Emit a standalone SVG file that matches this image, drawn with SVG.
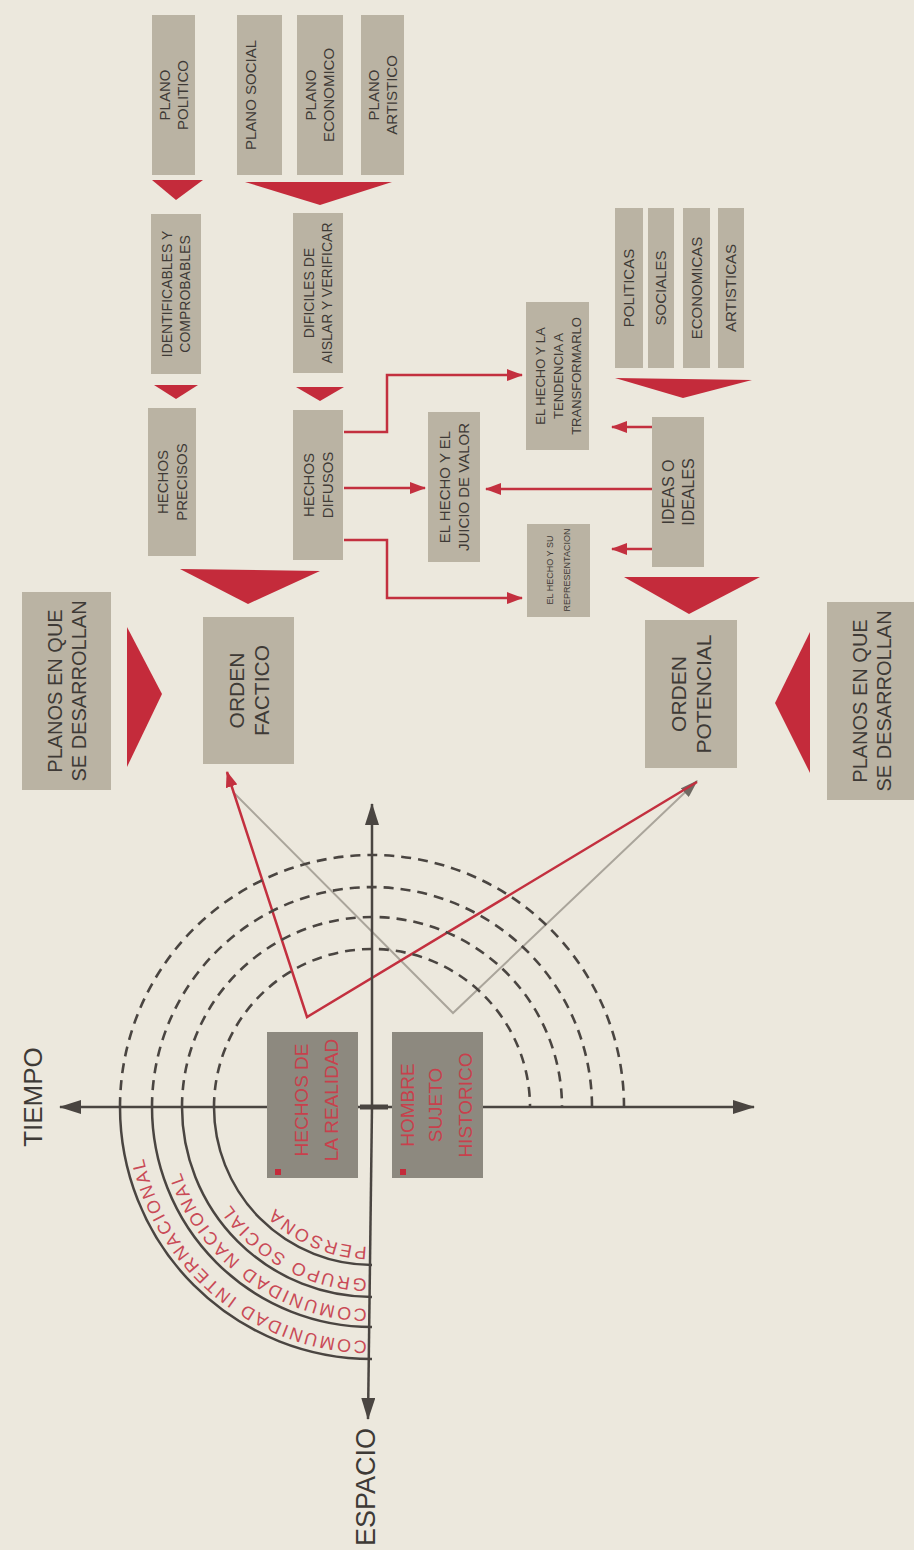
<svg xmlns="http://www.w3.org/2000/svg" width="914" height="1550" viewBox="0 0 914 1550">
<defs>
<style>
.bx{fill:#bab3a3}
.dk{fill:#8d897f}
.tri{fill:#c42b3b}
.t{font-family:"Liberation Sans",Arial,sans-serif;fill:#3e3a36;text-anchor:middle}
.tr{font-family:"Liberation Sans",Arial,sans-serif;fill:#c8404c;text-anchor:middle}
.arc{font-family:"Liberation Sans",Arial,sans-serif;fill:#c94a56;font-size:18px;letter-spacing:2.2px}
.ln{fill:none;stroke:#c3303f;stroke-width:2.5}
.ax{fill:none;stroke:#4a4541;stroke-width:2.5}
.da{fill:none;stroke:#4a4541;stroke-width:2.6;stroke-dasharray:10 7}
</style>
<marker id="ar" markerWidth="16" markerHeight="12" refX="15" refY="6" orient="auto" markerUnits="userSpaceOnUse"><path d="M0,0 L16,6 L0,12 z" fill="#c3303f"/></marker>
<marker id="ag" markerWidth="18" markerHeight="12" refX="17" refY="6" orient="auto" markerUnits="userSpaceOnUse"><path d="M0,0 L18,6 L0,12 z" fill="#6f6a63"/></marker>
<marker id="ak" markerWidth="22" markerHeight="14" refX="21" refY="7" orient="auto" markerUnits="userSpaceOnUse"><path d="M0,0 L22,7 L0,14 z" fill="#4a4541"/></marker>
<path id="p1" d="M372 1247 A140 140 0 0 1 232 1107"/>
<path id="p2" d="M372 1279 A172 172 0 0 1 200 1107"/>
<path id="p3" d="M372 1309 A202 202 0 0 1 170 1107"/>
<path id="p4" d="M372 1341 A234 234 0 0 1 138 1107"/>
</defs>
<rect width="914" height="1550" fill="#ece8dd"/>

<g id="plano-politico"><rect class="bx" x="152" y="15" width="43" height="160"/>
<text class="t" font-size="15" transform="translate(173.5,95) rotate(-90)"><tspan x="0" y="-3.75">PLANO</tspan><tspan x="0" y="14.25">POLITICO</tspan></text></g>
<g id="plano-social"><rect class="bx" x="237" y="15" width="45" height="160"/>
<text class="t" font-size="15" transform="translate(259.5,95) rotate(-90)"><tspan x="0" y="-3.75">PLANO SOCIAL</tspan></text></g>
<g id="plano-economico"><rect class="bx" x="297" y="15" width="46" height="160"/>
<text class="t" font-size="15" transform="translate(320,95) rotate(-90)"><tspan x="0" y="-3.75">PLANO</tspan><tspan x="0" y="14.25">ECONOMICO</tspan></text></g>
<g id="plano-artistico"><rect class="bx" x="361" y="15" width="43" height="160"/>
<text class="t" font-size="15" transform="translate(382.5,95) rotate(-90)"><tspan x="0" y="-3.75">PLANO</tspan><tspan x="0" y="14.25">ARTISTICO</tspan></text></g>
<polygon class="tri" points="152,180 203,180 176,200"/>
<polygon class="tri" points="245,182 392,182 320,205"/>

<g id="identificables"><rect class="bx" x="151" y="214" width="50" height="160"/>
<text class="t" font-size="14" transform="translate(176,294) rotate(-90)"><tspan x="0" y="-4">IDENTIFICABLES Y</tspan><tspan x="0" y="14">COMPROBABLES</tspan></text></g>
<g id="dificiles"><rect class="bx" x="293" y="213" width="50" height="160"/>
<text class="t" font-size="14" transform="translate(318,293) rotate(-90)"><tspan x="0" y="-4">DIFICILES DE</tspan><tspan x="0" y="14">AISLAR Y VERIFICAR</tspan></text></g>
<polygon class="tri" points="154,385 198,385 176,399"/>
<polygon class="tri" points="296,387 344,387 320,401"/>

<g id="hechos-precisos"><rect class="bx" x="148" y="408" width="48" height="148"/>
<text class="t" font-size="15" transform="translate(172,482) rotate(-90)"><tspan x="0" y="-4">HECHOS</tspan><tspan x="0" y="15">PRECISOS</tspan></text></g>
<g id="hechos-difusos"><rect class="bx" x="293" y="410" width="50" height="150"/>
<text class="t" font-size="15" transform="translate(318,485) rotate(-90)"><tspan x="0" y="-4">HECHOS</tspan><tspan x="0" y="15">DIFUSOS</tspan></text></g>
<polygon class="tri" points="180,569 320,571 248,604"/>

<g id="orden-factico"><rect class="bx" x="203" y="617" width="91" height="147"/>
<text class="t" font-size="21" transform="translate(248.5,690.5) rotate(-90)"><tspan x="0" y="-5">ORDEN</tspan><tspan x="0" y="20">FACTICO</tspan></text></g>
<g id="planos-izq"><rect class="bx" x="22" y="592" width="89" height="198"/>
<text class="t" font-size="20" transform="translate(66.5,691) rotate(-90)"><tspan x="0" y="-5">PLANOS EN QUE</tspan><tspan x="0" y="19">SE DESARROLLAN</tspan></text></g>
<polygon class="tri" points="127,627 127,767 162,694"/>

<g id="tendencia"><rect class="bx" x="526" y="302" width="63" height="148"/>
<text class="t" font-size="13" transform="translate(557.5,376) rotate(-90)"><tspan x="0" y="-13">EL HECHO Y LA</tspan><tspan x="0" y="5">TENDENCIA A</tspan><tspan x="0" y="23">TRANSFORMARLO</tspan></text></g>
<g id="juicio"><rect class="bx" x="428" y="412" width="52" height="150"/>
<text class="t" font-size="15" transform="translate(454,487) rotate(-90)"><tspan x="0" y="-4">EL HECHO Y EL</tspan><tspan x="0" y="15">JUICIO DE VALOR</tspan></text></g>
<g id="representacion"><rect class="bx" x="527" y="524" width="63" height="93"/>
<text class="t" font-size="9" transform="translate(558.5,570) rotate(-90)"><tspan x="0" y="-6">EL HECHO Y SU</tspan><tspan x="0" y="11">REPRESENTACION</tspan></text></g>

<g id="politicas"><rect class="bx" x="615" y="208" width="28" height="160"/>
<text class="t" font-size="15" transform="translate(629,288) rotate(-90)"><tspan x="0" y="5.3">POLITICAS</tspan></text></g>
<g id="sociales"><rect class="bx" x="648" y="208" width="26" height="160"/>
<text class="t" font-size="15" transform="translate(661,288) rotate(-90)"><tspan x="0" y="5.3">SOCIALES</tspan></text></g>
<g id="economicas"><rect class="bx" x="683" y="208" width="27" height="160"/>
<text class="t" font-size="15" transform="translate(696.5,288) rotate(-90)"><tspan x="0" y="5.3">ECONOMICAS</tspan></text></g>
<g id="artisticas"><rect class="bx" x="718" y="208" width="26" height="160"/>
<text class="t" font-size="15" transform="translate(731,288) rotate(-90)"><tspan x="0" y="5.3">ARTISTICAS</tspan></text></g>
<polygon class="tri" points="615,378 752,380 683,398"/>

<g id="ideas"><rect class="bx" x="652" y="417" width="52" height="150"/>
<text class="t" font-size="16" transform="translate(678,492) rotate(-90)"><tspan x="0" y="-4">IDEAS O</tspan><tspan x="0" y="16">IDEALES</tspan></text></g>
<polygon class="tri" points="624,577 760,577 689,614"/>

<g id="orden-potencial"><rect class="bx" x="645" y="620" width="92" height="148"/>
<text class="t" font-size="21" transform="translate(691,694) rotate(-90)"><tspan x="0" y="-5">ORDEN</tspan><tspan x="0" y="20">POTENCIAL</tspan></text></g>
<g id="planos-der"><rect class="bx" x="827" y="602" width="87" height="198"/>
<text class="t" font-size="20" transform="translate(871.5,701) rotate(-90)"><tspan x="0" y="-5">PLANOS EN QUE</tspan><tspan x="0" y="19">SE DESARROLLAN</tspan></text></g>
<polygon class="tri" points="810,632 810,773 775,703"/>

<g id="connectors">
<path class="ln" d="M344 432 H387 V375 H522" marker-end="url(#ar)"/>
<path class="ln" d="M344 488 H425" marker-end="url(#ar)"/>
<path class="ln" d="M344 540 H387 V598 H522" marker-end="url(#ar)"/>
<path class="ln" d="M652 427 H612" marker-end="url(#ar)"/>
<path class="ln" d="M652 489 H486" marker-end="url(#ar)"/>
<path class="ln" d="M652 549 H612" marker-end="url(#ar)"/>
<path fill="none" stroke="#aaa59b" stroke-width="2" d="M233 792 L453 1013 L697 781" marker-end="url(#ag)"/>
<path class="ln" stroke-width="2.2" d="M697 782 L307 1017 L227 772" marker-end="url(#ar)"/>
</g>

<g id="axes">
<path class="da" d="M214 1107 A158 158 0 0 1 530 1107"/>
<path class="da" d="M182 1107 A190 190 0 0 1 562 1107"/>
<path class="da" d="M152 1107 A220 220 0 0 1 592 1107"/>
<path class="da" d="M120 1107 A252 252 0 0 1 624 1107"/>
<path class="ax" d="M214 1107 A158 158 0 0 0 372 1265"/>
<path class="ax" d="M182 1107 A190 190 0 0 0 372 1297"/>
<path class="ax" d="M152 1107 A220 220 0 0 0 372 1327"/>
<path class="ax" d="M120 1107 A252 252 0 0 0 372 1359"/>
<line class="ax" x1="372" y1="1107" x2="60" y2="1107" marker-end="url(#ak)"/>
<line class="ax" x1="372" y1="1107" x2="754" y2="1107" marker-end="url(#ak)"/>
<line class="ax" x1="372" y1="1107" x2="372" y2="804" marker-end="url(#ak)"/>
<line class="ax" x1="372" y1="1107" x2="368" y2="1419" marker-end="url(#ak)"/>
<line stroke="#4a4541" stroke-width="5" x1="360" y1="1107" x2="388" y2="1107"/>
</g>

<g id="hechos-realidad"><rect class="dk" x="267" y="1032" width="91" height="146"/>
<rect x="275" y="1169" width="6" height="6" fill="#c42b3b"/>
<text class="tr" font-size="19" transform="translate(316,1100) rotate(-90)"><tspan x="0" y="-8">HECHOS DE</tspan><tspan x="0" y="22">LA REALIDAD</tspan></text></g>
<g id="hombre"><rect class="dk" x="392" y="1032" width="91" height="146"/>
<rect x="400" y="1169" width="6" height="6" fill="#c42b3b"/>
<text class="tr" font-size="19" transform="translate(436,1105) rotate(-90)"><tspan x="0" y="-22">HOMBRE</tspan><tspan x="0" y="6">SUJETO</tspan><tspan x="0" y="36">HISTORICO</tspan></text></g>

<g id="arc-labels">
<text class="arc"><textPath href="#p1" startOffset="5">PERSONA</textPath></text>
<text class="arc"><textPath href="#p2" startOffset="5">GRUPO SOCIAL</textPath></text>
<text class="arc"><textPath href="#p3" startOffset="5">COMUNIDAD NACIONAL</textPath></text>
<text class="arc"><textPath href="#p4" startOffset="5">COMUNIDAD INTERNACIONAL</textPath></text>
</g>

<text class="t" font-size="26" transform="translate(33,1097) rotate(-90)" y="9">TIEMPO</text>
<text class="t" font-size="27" transform="translate(366,1487) rotate(-90)" y="9">ESPACIO</text>
</svg>
